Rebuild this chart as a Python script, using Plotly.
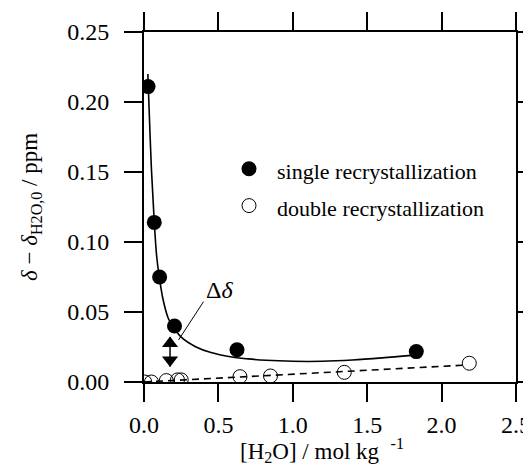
import plotly.graph_objects as go

# ---- data ----
single_x = [0.027, 0.069, 0.105, 0.205, 0.625, 1.83]
single_y = [0.211, 0.114, 0.075, 0.040, 0.023, 0.0217]

double_x = [0.005, 0.05, 0.15, 0.225, 0.25, 0.645, 0.85, 1.346, 2.186]
double_y = [0.0, 0.0, 0.001, 0.0015, 0.0015, 0.0038, 0.0043, 0.0069, 0.0134]

fit1_x = [0.026, 0.03, 0.05, 0.069, 0.085, 0.10, 0.13, 0.165, 0.2, 0.25, 0.35, 0.45,
          0.58, 0.7, 0.82, 1.0, 1.2, 1.4, 1.6, 1.8]
fit1_y = [0.22, 0.208, 0.152, 0.114, 0.090, 0.077, 0.058, 0.045, 0.039, 0.032, 0.025,
          0.021, 0.018, 0.0165, 0.0155, 0.0148, 0.0148, 0.0157, 0.0172, 0.019]

fit2_x = [0.0, 2.15]
fit2_y = [0.0, 0.012]

delta_x = [0.175, 0.175]
delta_y = [0.0275, 0.0157]

x_ticks = [0.0, 0.5, 1.0, 1.5, 2.0, 2.5]
y_ticks = [0.0, 0.05, 0.10, 0.15, 0.20, 0.25]

FONT = "Liberation Serif"

def leg(name):
    return f"<span style='font-size:22px'>{name}</span>"

fig = go.Figure()
fig.add_trace(go.Scatter(x=fit1_x, y=fit1_y, mode="lines", line=dict(color="black", width=1.6, shape="spline"),
                         showlegend=False, hoverinfo="skip"))
fig.add_trace(go.Scatter(x=fit2_x, y=fit2_y, mode="lines", line=dict(color="black", width=1.6, dash="7px,5px"),
                         showlegend=False, hoverinfo="skip"))
fig.add_trace(go.Scatter(x=double_x, y=double_y, mode="markers", name=leg("double recrystallization"),
                         marker=dict(symbol="circle-open", size=14, color="black", line=dict(width=1))))
fig.add_trace(go.Scatter(x=single_x, y=single_y, mode="markers", name=leg("single recrystallization"),
                         marker=dict(symbol="circle", size=15, color="black")))
fig.add_trace(go.Scatter(x=delta_x, y=delta_y, mode="markers",
                         marker=dict(symbol=["triangle-up", "triangle-down"], size=14, color="black"),
                         showlegend=False, hoverinfo="skip"))
fig.add_trace(go.Scatter(x=delta_x, y=[0.032, 0.011], mode="lines", line=dict(color="black", width=1.5),
                         showlegend=False, hoverinfo="skip"))

# Delta delta label with leader line
fig.add_annotation(x=0.505, y=0.0657, text="Δ<i>δ</i>", showarrow=False,
                   font=dict(family=FONT, size=24, color="black"))
fig.add_shape(type="line", x0=0.40, y0=0.0574, x1=0.232, y1=0.030, xref="x", yref="y",
              line=dict(color="black", width=1))

# axis titles
fig.add_annotation(x=0.478, y=-0.197, xref="paper", yref="paper", showarrow=False,
                   xanchor="center", yanchor="middle",
                   text="[H<sub>2</sub>O] / mol kg  <sup>-1</sup>",
                   font=dict(family=FONT, size=23, color="black"))
fig.add_annotation(x=-0.304, y=0.5, xref="paper", yref="paper", showarrow=False, textangle=-90,
                   xanchor="center", yanchor="middle",
                   text="<i>δ</i> − <i>δ</i><sub>H2O,0</sub> / ppm",
                   font=dict(family=FONT, size=23, color="black"))

axis_common = dict(showline=True, linecolor="black", linewidth=2, mirror="allticks",
                   ticks="outside", ticklen=18, tickwidth=2, tickcolor="black",
                   showgrid=False, zeroline=False, automargin=False,
                   tickfont=dict(family=FONT, size=24, color="black"))

fig.update_xaxes(range=[0, 2.5], tickvals=x_ticks, ticktext=[f"{v:.1f}" for v in x_ticks],
                 ticklabelstandoff=2, **axis_common)
fig.update_yaxes(range=[0, 0.25], tickvals=y_ticks, ticktext=[f"{v:.2f}" for v in y_ticks],
                 ticklabelstandoff=10, **axis_common)

# page body adds an 8px offset; figure sized so the plot lands where the reference has it
fig.update_layout(
    width=523, height=459,
    margin=dict(l=136, r=15, t=24, b=85),
    plot_bgcolor="white", paper_bgcolor="white",
    font=dict(family=FONT, size=22, color="black"),
    legend=dict(x=0.207, y=0.676, xanchor="left", yanchor="top", traceorder="reversed",
                bgcolor="rgba(0,0,0,0)", font=dict(family=FONT, size=26, color="black"),
                itemwidth=46, tracegroupgap=0),
)

fig.write_html("out.html")
